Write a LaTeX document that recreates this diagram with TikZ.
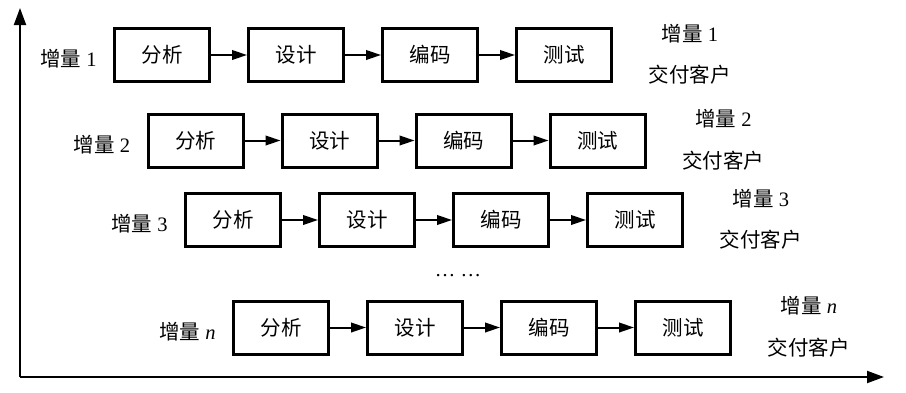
\documentclass[tikz,border=0pt]{standalone}
\usepackage{fontspec}
\setmainfont{Liberation Serif}
\newfontfamily\cjk{Noto Sans CJK SC}
\usetikzlibrary{arrows.meta, positioning}
\newcommand\diagfont{\fontsize{10.25pt}{12pt}\selectfont}
\tikzset{
  stagebox/.style   = {rectangle, draw=black, line width=1.5pt,
                       minimum width=47.5pt, minimum height=26.5pt,
                       inner sep=0pt, font=\diagfont\cjk},
  stagearrow/.style = {-{Triangle[length=7.5pt,width=4.8pt]}, line width=1pt},
  axisarrow/.style  = {-{Triangle[length=8.5pt,width=6pt]}, line width=1pt},
  inclab/.style     = {inner sep=0pt, font=\diagfont},
}
\newcommand\inclabel[1]{{\cjk 增量}\ #1}

\begin{document}
\begin{tikzpicture}[x=0.5pt, y=-0.5pt, node distance=18pt]
  \useasboundingbox (0,0) rectangle (906,392);
  % axes
  \coordinate (origin) at (20,377);
  \coordinate (ytop) at (20,8);
  \coordinate (xend) at (884,377);
  \draw[axisarrow] (origin) -- (ytop);
  \draw[axisarrow] (origin) -- (xend);
  % one row per increment
  \foreach \i/\k/\xo/\yo in {1/1/162/55, 2/2/195.5/140.5, 3/3/233/220,
                             4/\textit{n}/281/327.5} {
    \node[stagebox] (a\i) at (\xo,\yo) {分析};
    \node[stagebox, right=of a\i] (s\i) {设计};
    \node[stagebox, right=of s\i] (c\i) {编码};
    \node[stagebox, right=of c\i] (t\i) {测试};
    \draw[stagearrow] (a\i) -- (s\i);
    \draw[stagearrow] (s\i) -- (c\i);
    \draw[stagearrow] (c\i) -- (t\i);
    \node[inclab, left=8pt of a\i, yshift=-2pt] (l\i) {\inclabel{\k}};
    \node[inclab, xshift=38.5pt, yshift=10.8pt] (r\i) at (t\i.east)
      {\inclabel{\k}};
    \node[inclab, xshift=38.3pt, yshift=-10pt, font=\diagfont\cjk] (d\i)
      at (t\i.east) {交付客户};
  }
  \node[inclab] (more) at (458,276) {\ldots\ \ldots};
\end{tikzpicture}
\end{document}
